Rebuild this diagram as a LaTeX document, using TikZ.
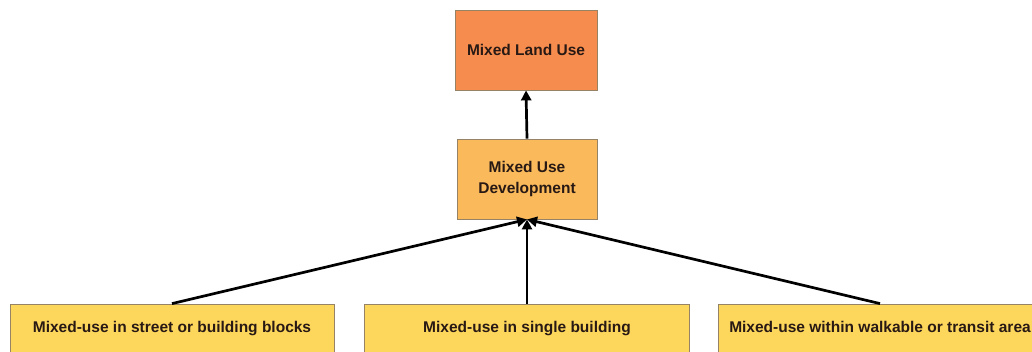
\documentclass[tikz,border=0pt]{standalone}
\usepackage{fontspec}
\setmainfont{Liberation Sans}
\usepackage{xcolor}
\usetikzlibrary{arrows.meta}
\definecolor{landuse}{RGB}{246,140,78}
\definecolor{usedev}{RGB}{250,186,92}
\definecolor{mixblock}{RGB}{253,214,92}
\definecolor{boxline}{RGB}{150,130,100}
\definecolor{boxtext}{RGB}{40,25,20}

\begin{document}
\begin{tikzpicture}[x=1pt,y=-1pt]
\tikzstyle{every node}+=[inner sep=0pt, font=\fontsize{15.5}{18}\selectfont\bfseries, text=boxtext, align=center]
\tikzstyle{box}=[draw=boxline, line width=0.8pt, minimum height=80pt]
\tikzstyle{link}=[draw=black, line width=2.7pt, -{Triangle[length=10pt,width=10pt]}]
\useasboundingbox[clip] (0,0) rectangle (1032,351);
\fill [white] (0,0) rectangle (1032,351);
\node [box, fill=landuse, minimum width=142pt] (land) at (526,50) {Mixed Land Use};
\node [box, fill=usedev, minimum width=140pt] (dev) at (527,179) {Mixed Use\\[3pt]Development};
\node [box, fill=mixblock, minimum width=324pt] (street) at (172,344) {Mixed-use in street or building blocks\\[16pt]};
\node [box, fill=mixblock, minimum width=325pt] (single) at (527,344) {Mixed-use in single building\\[16pt]};
\node [box, fill=mixblock, minimum width=324pt] (walk) at (880,344) {Mixed-use within walkable or transit area\\[16pt]};
\draw [link] (dev.north) -- (land.south);
\draw [link] (street.north) -- (dev.south);
\draw [link] (single.north) -- (dev.south);
\draw [link] (walk.north) -- (dev.south);
\end{tikzpicture}
\end{document}
